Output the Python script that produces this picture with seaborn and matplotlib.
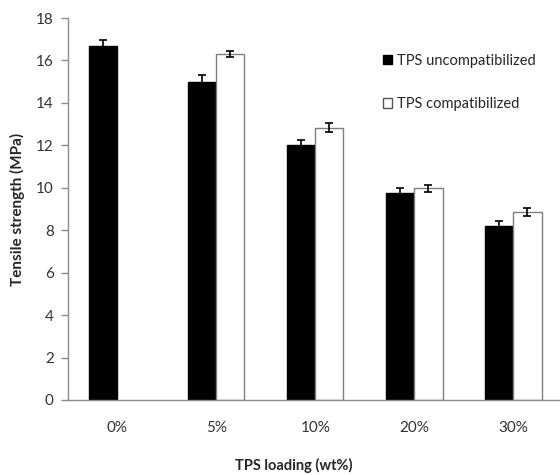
import numpy as np
import pandas as pd
import matplotlib
matplotlib.use('Agg')
import matplotlib.pyplot as plt
import seaborn as sns
from matplotlib.patches import Patch

# Data
loadings = ['0%', '5%', '10%', '20%', '30%']
series = ['TPS uncompatibilized', 'TPS compatibilized']
uncompat = [16.7, 15.0, 12.0, 9.75, 8.2]
uncompat_err = [0.25, 0.3, 0.25, 0.25, 0.22]
compat = [np.nan, 16.3, 12.83, 9.97, 8.87]
compat_err = [np.nan, 0.15, 0.2, 0.15, 0.2]

df = pd.DataFrame({
    'loading': loadings * 2,
    'series': [series[0]] * len(loadings) + [series[1]] * len(loadings),
    'value': uncompat + compat,
    'err': uncompat_err + compat_err,
})

sns.set_style('white')
plt.rcParams['font.family'] = ['Lato', 'DejaVu Sans']

fig = plt.figure(figsize=(5.6, 4.75), dpi=100)
ax = fig.add_axes([0.121, 0.158, 0.884, 0.804])

sns.barplot(data=df, x='loading', y='value', hue='series', order=loadings,
            hue_order=series, palette=['black', 'white'], width=0.57,
            errorbar=None, legend=False, ax=ax)

# style bars and add error bars at the bar tops (seaborn skips the NaN bar)
edge = {series[0]: 'black', series[1]: '#7f7f7f'}
for container, name in zip(ax.containers, series):
    sub = df[df['series'] == name].set_index('loading').loc[loadings].dropna()
    for bar, (_, row) in zip(container, sub.iterrows()):
        bar.set_edgecolor(edge[name])
        bar.set_linewidth(1.0)
        cx = bar.get_x() + bar.get_width() / 2
        ax.errorbar(cx, row['value'], yerr=row['err'], color='black',
                    capsize=3, elinewidth=1.2, capthick=1.2, fmt='none')

ax.set_xlim(-0.5, 4.5)
ax.set_ylim(0, 18)
ax.set_yticks(np.arange(0, 19, 2))

sns.despine(ax=ax)
for s in ['left', 'bottom']:
    ax.spines[s].set_color('#8c8c8c')
    ax.spines[s].set_linewidth(1.0)

ax.tick_params(axis='y', left=True, direction='out', length=5, width=1,
               color='#8c8c8c', labelsize=11, labelcolor='#333333', pad=5)
ax.tick_params(axis='x', bottom=False, labelsize=11, labelcolor='#333333', pad=12)

ax.set_xlabel('TPS loading (wt%)', fontsize=10.5, fontweight='bold')
ax.xaxis.set_label_coords(0.457, -0.153)
ax.set_ylabel('Tensile strength (MPa)', fontsize=11, fontweight='bold', labelpad=8)

handles = [Patch(facecolor='black', edgecolor='black'),
           Patch(facecolor='white', edgecolor='#555555')]
fig.legend(handles, series, loc='upper left', bbox_to_anchor=(383 / 560, 1 - 54 / 475),
           frameon=False, fontsize=10.5, handlelength=0.6, handleheight=0.6,
           handletextpad=0.35, labelspacing=2.0, borderpad=0, borderaxespad=0)

fig.savefig('out.png', dpi=100)
